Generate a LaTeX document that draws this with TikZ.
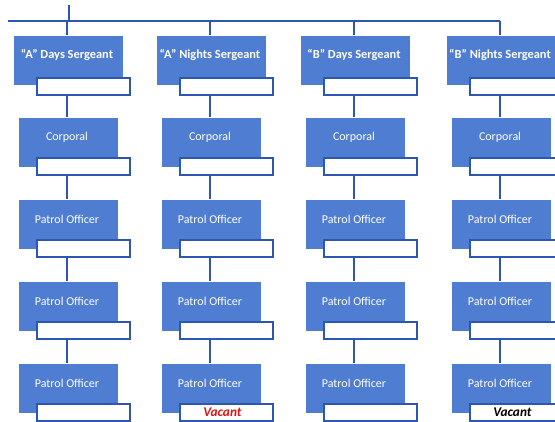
\documentclass[tikz,border=0pt]{standalone}
\usepackage{fontspec}
\setmainfont{Carlito}
\usetikzlibrary{positioning}

\definecolor{boxblue}{RGB}{79,125,210}
\definecolor{lineblue}{RGB}{45,86,176}
\definecolor{vacantred}{RGB}{220,20,20}

\tikzset{every picture/.style={line width=0.75pt}}
\tikzset{
  rankbox/.style={fill=boxblue, draw=none, anchor=north west, inner sep=0pt, minimum height=36.75pt},
  sgtbox/.style={rankbox, minimum width=81.75pt},
  offbox/.style={rankbox, minimum width=74.25pt},
  namebox/.style={fill=white, draw=lineblue, line width=1.4pt, anchor=north west, inner sep=0pt,
    minimum width=69.75pt, minimum height=12.75pt},
  ranktext/.style={text=white, inner sep=0.75pt, font=\fontsize{9}{10}\selectfont},
  sgttext/.style={ranktext, font=\fontsize{9.3}{10}\selectfont\bfseries},
  vacanttext/.style={inner sep=0.75pt, font=\fontsize{10}{12}\selectfont\bfseries\itshape},
  link/.style={draw=lineblue, line width=1.6pt}
}

\begin{document}
\begin{tikzpicture}[x=0.75pt,y=0.75pt,yscale=-1,xscale=1]
\useasboundingbox (0,0) rectangle (555,421);

% top bar
\coordinate (stem) at (69,5);
\coordinate (barL) at (8,21);
\coordinate (barS) at (69,21);
\coordinate (barR) at (500,21);
\draw [link] (barL) -- (barR) ;
\draw [link] (stem) -- (barS) ;

% columns: centre x / sergeant title
\foreach \c/\col/\title in {67/a/{``A'' Days Sergeant},210/b/{``A'' Nights Sergeant},354/c/{``B'' Days Sergeant},500/d/{``B'' Nights Sergeant}}{
  % Sergeant
  \node [sgtbox] (\col0) at (\c-54,35) {} ;
  \node [namebox] (\col0w) at (\c-31,77) {} ;
  \node [sgttext] at (\c,55) {\title} ;
  \coordinate (\col top) at (\c,21) ;
  \draw [link] (\col top) -- (\col0.north -| \col top) ;
  % Corporal and patrol officers
  \foreach \r/\rank in {1/Corporal,2/Patrol Officer,3/Patrol Officer,4/Patrol Officer}{
    \pgfmathsetmacro{\y}{35+82*\r}
    \node [offbox] (\col\r) at (\c-49,\y) {} ;
    \node [namebox] (\col\r w) at (\c-31,\y+40) {} ;
    \node [ranktext] at (\c,\y+20) {\rank} ;
  }
  % links down the column
  \foreach \p/\r in {0/1,1/2,2/3,3/4}{
    \draw [link] (\col top |- \col\p w.south) -- (\col top |- \col\r.north) ;
  }
}

% vacant posts
\node [vacanttext, text=vacantred] (vacb) at ([xshift=-3pt]b4w.center) {Vacant} ;
\node [vacanttext, text=black] (vacd) at ([xshift=-3pt]d4w.center) {Vacant} ;

\end{tikzpicture}
\end{document}
